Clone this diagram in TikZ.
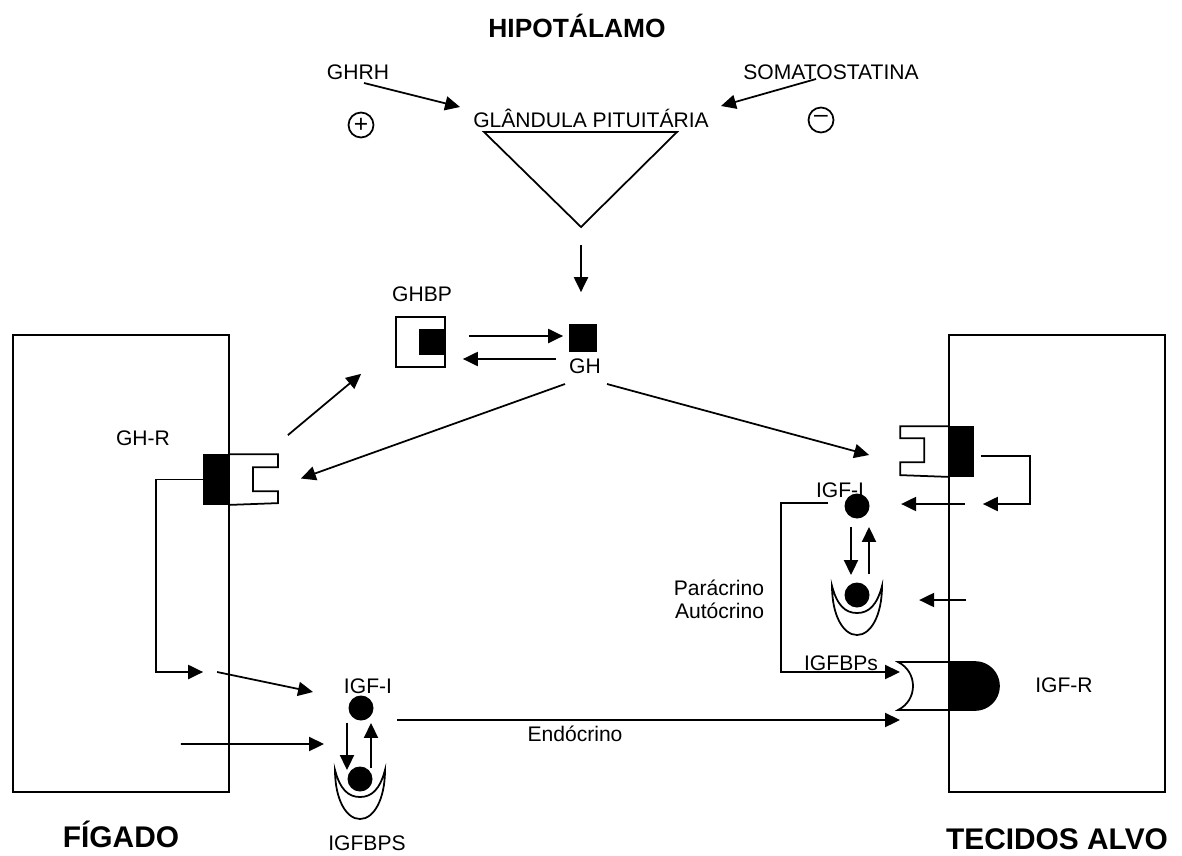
\documentclass[tikz,border=0pt]{standalone}
\usepackage{fontspec}
\setmainfont{Liberation Sans}
\usetikzlibrary{positioning,arrows.meta,calc}

\begin{document}
\begin{tikzpicture}[x=0.02cm, y=-0.02cm, line width=1pt,
  >={Triangle[length=8.5pt,width=8pt]},
  lab/.style={font=\fontsize{12}{14}\selectfont, inner sep=0pt, anchor=base},
  head/.style={font=\fontsize{17}{20}\selectfont\bfseries, inner sep=0pt,
               anchor=base},
  sgn/.style={draw, circle, minimum size=0.5cm, inner sep=0pt,
              font=\fontsize{14}{14}\selectfont},
  blk/.style={draw, fill=black, inner sep=0pt},
  ball/.style={circle, fill=black, minimum size=0.5cm, inner sep=0pt},
  organ/.style={draw, inner sep=0pt},
  bpcup/.pic={\draw[fill=white] (-25,-9) .. controls (-25,20) and (-14,40) .. (0,40)
      .. controls (14,40) and (25,20) .. (25,-9)
      .. controls (20,10) and (12,18) .. (0,18)
      .. controls (-12,18) and (-20,10) .. (-25,-9) -- cycle;}]
  \useasboundingbox (0,0) rectangle (1182,855);

  \node[head, font=\fontsize{15}{18}\selectfont\bfseries] (hypo) at (577,38) {HIPOTÁLAMO};
  \node[lab] (ghrh) at (358,80) {GHRH};
  \node[lab] (somato) at (831,80) {SOMATOSTATINA};
  \node[sgn] (plus) at (361,125) {+};
  \node[sgn] (minus) at (821,120) {\raisebox{1pt}{–}};
  \node[lab] (pit) at (591,127) {GLÂNDULA PITUITÁRIA};
  \draw (484,132) -- (677,132) -- (581,227) coordinate (apex) -- cycle;
  \coordinate (ghrhin) at (460,107);
  \coordinate (somin) at (721,106);
  \draw[->] ($(ghrh.base)+(6,3)$) -- (ghrhin);
  \draw[->] ($(somato.base)+(-15,-1)$) -- (somin);

  \node[blk, minimum size=0.52cm] (gh) at (583,338) {};
  \node[lab] (ghlab) at (585,373) {GH};
  \node[organ, minimum width=0.98cm, minimum height=1cm] (ghbp) at (420.5,342) {};
  \node[blk, minimum size=0.5cm, anchor=east] (ghbpblk) at (ghbp.east) {};
  \node[lab] (ghbplab) at (422,301) {GHBP};
  \draw[->] ($(apex)+(0,18)$) -- ($(gh.north)+(-2,-32)$);
  \draw[->] ($(ghbp.east)+(23,-6)$) -- ($(gh.west)+(-6,-2)$);
  \draw[->] ($(gh.west)+(-13,21)$) -- ($(ghbp.east)+(17,17)$);

  \node[organ, minimum width=4.32cm, minimum height=9.14cm] (liver) at (121,563.5) {};
  \node[organ, minimum width=4.32cm, minimum height=9.14cm] (tissue) at (1057,563.5) {};
  \node[head] (liverlab) at (121,847) {FÍGADO};
  \node[head] (tissuelab) at (1057,849) {TECIDOS ALVO};

  \node[lab] (ghrlab) at (143,445) {GH-R};
  \node[blk, minimum width=0.5cm, minimum height=0.98cm] (ghr) at (216.5,479.5) {};
  \draw (ghr.north east) -- ++(48,0) -- ++(0,13) -- ++(-25,0) -- ++(0,24)
    -- ++(25,0) -- ++(0,12) -- (ghr.south east);
  \node[blk, minimum width=0.48cm, minimum height=0.98cm] (tghr) at (961,451.5) {};
  \draw (tghr.north west) -- ++(-48,0) -- ++(0,12) -- ++(24,0) -- ++(0,24)
    -- ++(-24,0) -- ++(0,13) -- (tghr.south west);

  \draw[->] ($(ghlab.base)+(-20,11)$) -- ($(ghr.east)+(71,-1)$);
  \draw[->] ($(ghlab.base)+(22,11)$) -- ($(tghr.west)+(-79,3.5)$);
  \draw[->] ($(ghr.north east)+(58,-19)$) -- ($(ghbp.south west)+(-34,6)$);

  \coordinate (igfr) at (951,686);
  \draw[fill=black] (951,662) -- (975,662) arc[start angle=90, end angle=-90,
    radius=0.48cm] -- (951,710) -- cycle;
  \draw (951,662) -- (898,662) .. controls (918,672) and (918,700) .. (898,710)
    -- (951,710);
  \node[lab] (igfrlab) at (1064,692) {IGF-R};

  \pic at (360,779) {bpcup};
  \node[ball] (igf) at (361,708) {};
  \node[ball] (igfbp) at (360,779) {};
  \node[lab] (igflab) at (368,693) {IGF-I};
  \node[lab] (bplab) at (367,850) {IGFBPS};
  \draw[->] ($(igf)+(-14,15)$) -- ($(igfbp)+(-13,-9)$);
  \draw[->] ($(igfbp)+(11,-11)$) -- ($(igf)+(10,15)$);

  \pic at (857,595) {bpcup};
  \node[ball] (igf2) at (857,506) {};
  \node[ball] (igfbp2) at (857,595) {};
  \node[lab] (igflab2) at (840,497) {IGF-I};
  \draw[->] ($(igf2)+(-6,21)$) -- ($(igfbp2)+(-6,-20)$);
  \draw[->] ($(igfbp2)+(12,-21)$) -- ($(igf2)+(12,21)$);
  \node[lab, anchor=base east] (para) at (765,595) {Parácrino};
  \node[lab, anchor=base east] (auto) at (765,618) {Autócrino};
  \node[lab] (bplab2) at (841,670) {IGFBPs};

  \draw[->] (ghr.west) -- ++(-47,0) |- ($(ghr.west)+(0,192.5)$);
  \draw[->] ($(ghr.west)+(14,192.5)$) -- ($(igf)+(-48,-16)$);
  \draw[->] ($(liver.east)+(-49,180.5)$) -- ($(igf)+(-37,36)$);
  \draw[->] ($(igf)+(36,12)$) -- ($(igfr)+(-51,34)$);
  \node[lab] (endo) at (575,741) {Endócrino};

  \draw[->] ($(igf2)+(-29,-3)$) -- ++(-47,0) |- ($(igfr)+(-51,-14)$);
  \draw[->] ($(tghr.east)+(7,4.5)$) -- ++(49,0) -- ++(0,48) -- ++(-47,0);
  \draw[->] ($(tissue.west)+(17,-59.5)$) -- ($(tissue.west)+(-47,-59.5)$);
  \draw[->] ($(tissue.west)+(18,36.5)$) -- ($(tissue.west)+(-29,36.5)$);
\end{tikzpicture}
\end{document}
